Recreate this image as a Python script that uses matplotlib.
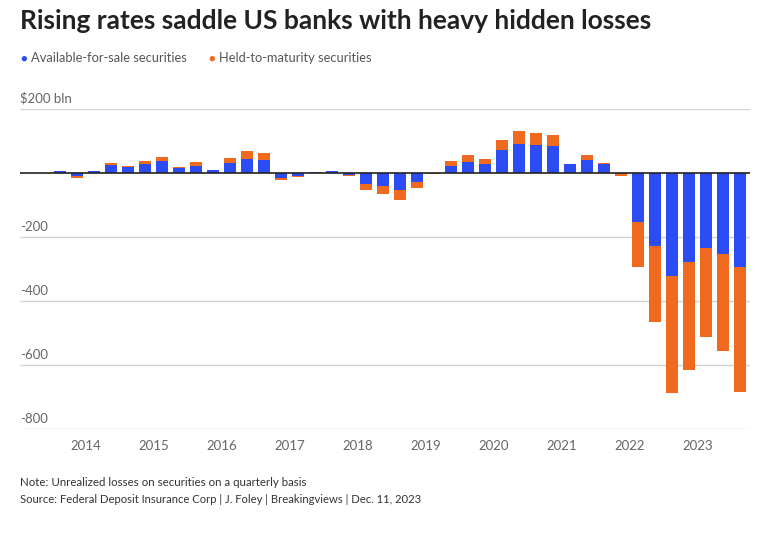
import matplotlib
matplotlib.use("Agg")
import matplotlib.pyplot as plt
import matplotlib.transforms as mtransforms
import numpy as np

plt.rcParams['font.family'] = ['Lato', 'DejaVu Sans']

# quarterly unrealized gains/losses, $ bln (2013Q3 .. 2023Q3)
quarters = ["2013Q3", "2013Q4",
            "2014Q1", "2014Q2", "2014Q3", "2014Q4",
            "2015Q1", "2015Q2", "2015Q3", "2015Q4",
            "2016Q1", "2016Q2", "2016Q3", "2016Q4",
            "2017Q1", "2017Q2", "2017Q3", "2017Q4",
            "2018Q1", "2018Q2", "2018Q3", "2018Q4",
            "2019Q1", "2019Q2", "2019Q3", "2019Q4",
            "2020Q1", "2020Q2", "2020Q3", "2020Q4",
            "2021Q1", "2021Q2", "2021Q3", "2021Q4",
            "2022Q1", "2022Q2", "2022Q3", "2022Q4",
            "2023Q1", "2023Q2", "2023Q3"]
afs = [6, -8,
       6, 26, 20, 28,
       36, 16, 23, 8,
       30, 45, 40, -16,
       -9, 2, 5, -5,
       -34, -42, -52, -27,
       -1, 23, 34, 29,
       71, 92, 88, 84,
       28, 42, 29, -1,
       -153, -229, -323, -279,
       -234, -253, -295]
htm = [0, -7,
       1, 4, 2, 8,
       14, 4, 11, 2,
       16, 23, 21, -5,
       -4, 0, 0, -4,
       -20, -24, -31, -19,
       -2, 15, 21, 16,
       33, 38, 37, 36,
       0, 13, 1, -7,
       -142, -238, -364, -336,
       -279, -302, -388]
years = [2014, 2015, 2016, 2017, 2018, 2019, 2020, 2021, 2022, 2023]
yticks = [200, -200, -400, -600, -800]
ylabels = ["$200 bln", "-200", "-400", "-600", "-800"]

blue = "#2b4cf2"
orange = "#ef6a1e"

fig = plt.figure(figsize=(7.68, 5.34), dpi=100)
ax = fig.add_axes([0.026, 0.1966, 0.9505, 0.5993])

x = np.arange(len(quarters))
afs = np.array(afs)
htm = np.array(htm)
# htm stacks on top of afs in the same direction
ax.bar(x, afs, width=0.7, color=blue, zorder=3)
ax.bar(x, htm, bottom=afs, width=0.7, color=orange, zorder=3)

ax.set_xlim(-2.35, 40.6)
ax.set_ylim(-800, 200)

for v in yticks:
    ax.axhline(v, color="#d4d4d4", lw=1, zorder=1)
ax.axhline(0, color="#222222", lw=1.2, zorder=4)

trans = mtransforms.blended_transform_factory(ax.transAxes, ax.transData)
trans = mtransforms.offset_copy(trans, fig=fig, x=0, y=3, units='points')
for v, lab in zip(yticks, ylabels):
    ax.text(0, v, lab, transform=trans, ha='left', va='bottom',
            fontsize=9.5, color="#666666")

# year labels sit at the year boundary
ypos = [quarters.index(str(y) + "Q1") - 0.5 for y in years]
ax.set_xticks(ypos)
ax.set_xticklabels([str(y) for y in years], fontsize=9.5, color="#666666")
ax.tick_params(axis='x', length=0, pad=8)
ax.set_yticks([])
for s in ax.spines.values():
    s.set_visible(False)

fig.text(0.026, 0.961, "Rising rates saddle US banks with heavy hidden losses",
         fontsize=19, fontweight='bold', color="#222222", va='center')

fig.text(0.026, 0.891, "\u25cf", color=blue, fontsize=8, va='center')
fig.text(0.040, 0.891, "Available-for-sale securities", color="#555555",
         fontsize=9.3, va='center')
fig.text(0.271, 0.891, "\u25cf", color=orange, fontsize=8, va='center')
fig.text(0.285, 0.891, "Held-to-maturity securities", color="#555555",
         fontsize=9.3, va='center')

fig.text(0.026, 0.097, "Note: Unrealized losses on securities on a quarterly basis",
         fontsize=8.3, color="#333333", va='center')
fig.text(0.026, 0.064,
         "Source: Federal Deposit Insurance Corp | J. Foley | Breakingviews | Dec. 11, 2023",
         fontsize=8.1, color="#333333", va='center')

fig.savefig("out.png", dpi=100, facecolor='white')
